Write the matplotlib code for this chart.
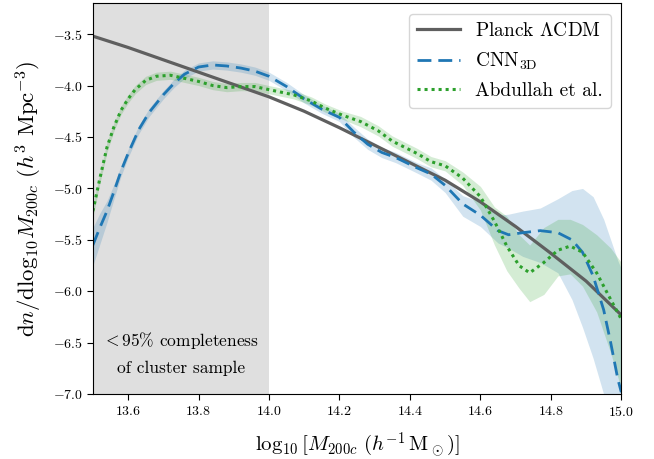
import numpy as np
import matplotlib
matplotlib.use('Agg')
import matplotlib.pyplot as plt

plt.rcParams['font.family'] = 'serif'
plt.rcParams['font.serif'] = ['cmr10', 'DejaVu Serif']
plt.rcParams['mathtext.fontset'] = 'cm'
plt.rcParams['axes.formatter.use_mathtext'] = True
plt.rcParams['axes.unicode_minus'] = True

# Planck LCDM prediction
planck_x = [13.5, 13.6, 13.7, 13.8, 13.9, 14.0, 14.1, 14.2, 14.3, 14.4,
            14.5, 14.6, 14.7, 14.8, 14.9, 15.0]
planck_y = [-3.52, -3.63, -3.75, -3.87, -3.99, -4.11, -4.25, -4.41, -4.58, -4.75,
            -4.92, -5.13, -5.37, -5.63, -5.90, -6.23]

# CNN_3D mass function with band
cnn_x = [13.50, 13.52, 13.54, 13.56, 13.58, 13.60, 13.63, 13.66, 13.70, 13.73,
         13.76, 13.80, 13.84, 13.88, 13.92, 13.96, 14.00, 14.05, 14.10, 14.15,
         14.20, 14.24, 14.28, 14.32, 14.36, 14.42, 14.46, 14.50, 14.55, 14.60,
         14.65, 14.68, 14.72, 14.77, 14.82, 14.86, 14.89, 14.92, 14.95, 14.97,
         14.99, 15.00]
cnn_y = [-5.55, -5.38, -5.22, -5.03, -4.83, -4.66, -4.43, -4.26, -4.09, -3.98,
         -3.89, -3.82, -3.80, -3.81, -3.83, -3.86, -3.91, -4.01, -4.13, -4.23,
         -4.31, -4.45, -4.57, -4.65, -4.70, -4.80, -4.86, -4.97, -5.15, -5.26,
         -5.41, -5.45, -5.43, -5.41, -5.43, -5.50, -5.62, -5.85, -6.18, -6.50,
         -6.85, -6.98]
cnn_lo = [-5.75, -5.54, -5.33, -5.10, -4.88, -4.70, -4.47, -4.30, -4.13, -4.02,
          -3.93, -3.86, -3.84, -3.85, -3.87, -3.90, -3.95, -4.05, -4.17, -4.27,
          -4.35, -4.50, -4.62, -4.70, -4.75, -4.85, -4.92, -5.04, -5.27, -5.37,
          -5.53, -5.58, -5.66, -5.72, -5.82, -6.08, -6.35, -6.65, -7.00, -7.30,
          -7.60, -7.70]
cnn_hi = [-5.38, -5.24, -5.12, -4.96, -4.78, -4.62, -4.39, -4.22, -4.05, -3.94,
          -3.85, -3.78, -3.76, -3.77, -3.79, -3.82, -3.87, -3.97, -4.09, -4.19,
          -4.27, -4.40, -4.52, -4.60, -4.65, -4.75, -4.80, -4.91, -5.07, -5.13,
          -5.26, -5.25, -5.22, -5.19, -5.10, -5.02, -5.00, -5.08, -5.30, -5.50,
          -5.70, -5.78]

# Abdullah et al. mass function with band
abd_x = [13.50, 13.52, 13.54, 13.56, 13.58, 13.60, 13.62, 13.65, 13.68, 13.72,
         13.76, 13.80, 13.84, 13.88, 13.92, 13.96, 14.00, 14.07, 14.12, 14.16,
         14.21, 14.26, 14.31, 14.35, 14.42, 14.46, 14.50, 14.55, 14.60, 14.64,
         14.675, 14.71, 14.74, 14.78, 14.82, 14.855, 14.89, 14.93, 14.97, 15.00]
abd_y = [-5.22, -4.90, -4.60, -4.40, -4.24, -4.13, -4.04, -3.95, -3.91, -3.90,
         -3.93, -3.96, -4.00, -4.02, -4.01, -4.01, -4.04, -4.09, -4.15, -4.22,
         -4.29, -4.35, -4.44, -4.54, -4.66, -4.74, -4.78, -4.90, -5.08, -5.32,
         -5.56, -5.75, -5.82, -5.72, -5.60, -5.56, -5.62, -5.82, -6.08, -6.27]
abd_lo = [-5.28, -4.95, -4.65, -4.44, -4.28, -4.17, -4.08, -3.99, -3.95, -3.94,
          -3.97, -4.00, -4.04, -4.06, -4.05, -4.05, -4.08, -4.13, -4.19, -4.26,
          -4.33, -4.40, -4.49, -4.59, -4.71, -4.79, -4.83, -4.97, -5.21, -5.55,
          -5.80, -5.97, -6.10, -6.03, -5.85, -5.83, -5.95, -6.20, -6.60, -6.95]
abd_hi = [-5.16, -4.85, -4.55, -4.36, -4.20, -4.09, -4.00, -3.91, -3.87, -3.86,
          -3.89, -3.92, -3.96, -3.98, -3.97, -3.97, -4.00, -4.05, -4.11, -4.18,
          -4.25, -4.30, -4.39, -4.49, -4.61, -4.69, -4.73, -4.84, -4.98, -5.18,
          -5.27, -5.45, -5.55, -5.38, -5.30, -5.30, -5.35, -5.45, -5.58, -5.72]

fig = plt.figure(figsize=(6.54, 4.59), dpi=100)
ax = fig.add_axes([0.142, 0.141, 0.808, 0.852])

ax.axvspan(13.5, 14.0, color='#dfdfdf', lw=0, zorder=0)

ax.fill_between(cnn_x, cnn_lo, cnn_hi, color='#1f77b4', alpha=0.2, lw=0)
ax.fill_between(abd_x, abd_lo, abd_hi, color='#2ca02c', alpha=0.2, lw=0)

ax.plot(planck_x, planck_y, color='#5f5f5f', lw=2.3, label=r'Planck $\Lambda$CDM')
ax.plot(cnn_x, cnn_y, color='#1f77b4', lw=2.0, ls=(0, (5, 2.5)), label=r'CNN$_{\rm 3D}$')
ax.plot(abd_x, abd_y, color='#2ca02c', lw=2.2, ls=(0, (1, 1.3)), label='Abdullah et al.')

ax.text(13.75, -6.6, r'$<$95% completeness' + '\n' + 'of cluster sample',
        ha='center', va='center', fontsize=12.5, linespacing=1.75)

ax.set_xlim(13.5, 15.0)
ax.set_ylim(-7.0, -3.2)
ax.set_xticks(np.arange(13.6, 15.01, 0.2))
ax.set_yticks(np.arange(-7.0, -3.49, 0.5))
ax.tick_params(direction='out', length=4, labelsize=10)

ax.set_xlabel(r'$\log_{10}[M_{200c}\ (h^{-1}\,\mathrm{M}_\odot)]$', fontsize=15, labelpad=8)
ax.set_ylabel(r'$\mathrm{d}n/\mathrm{dlog}_{10}M_{200c}\ (h^3\ \mathrm{Mpc}^{-3})$', fontsize=16.5, labelpad=6)

ax.legend(loc='upper right', fontsize=14, handlelength=2.2, labelspacing=0.55,
          borderaxespad=0.55)

fig.savefig('out.png', dpi=100)
